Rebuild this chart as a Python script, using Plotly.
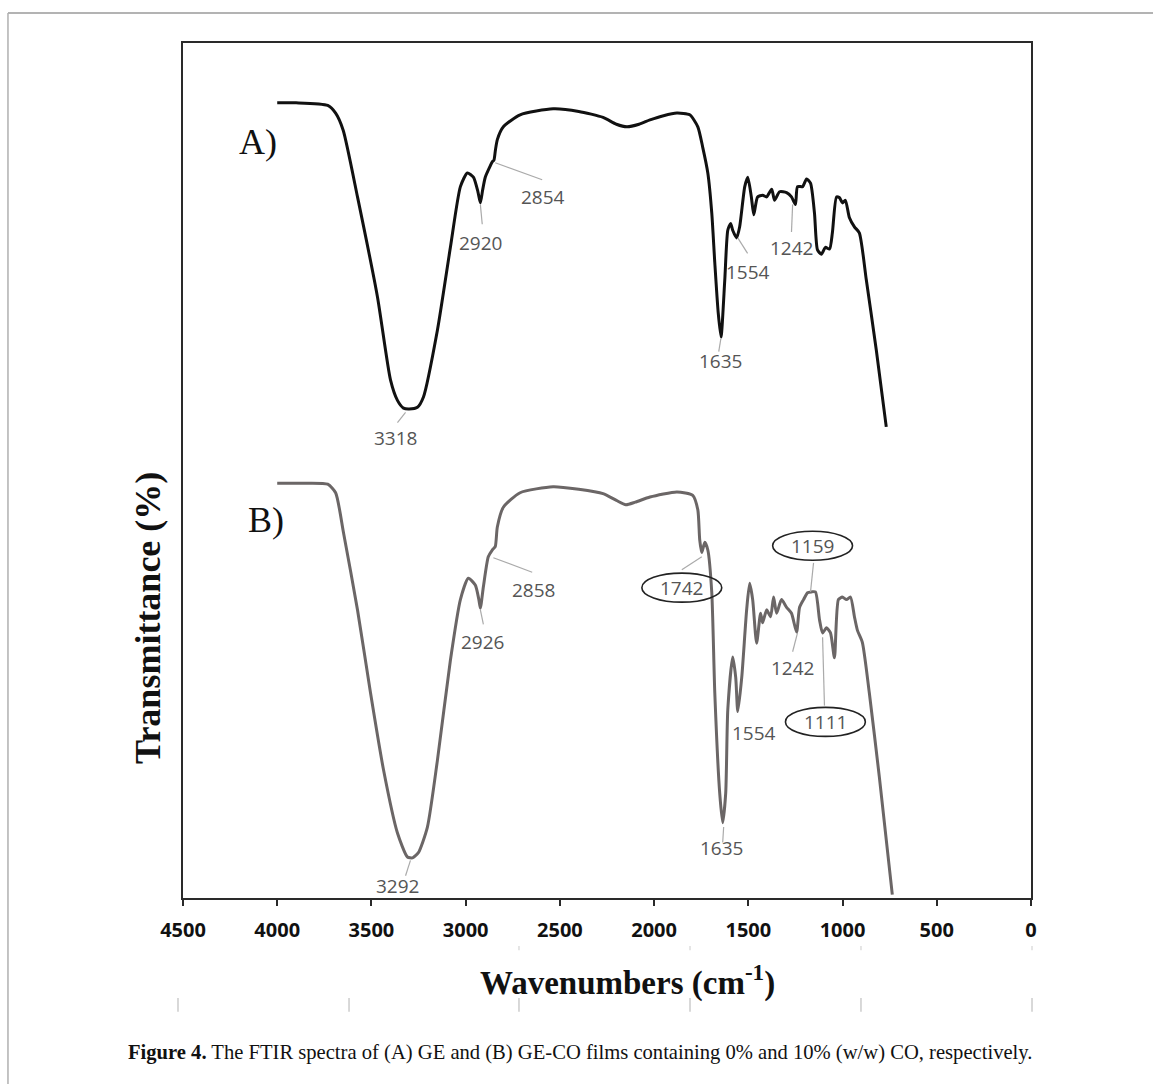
import plotly.graph_objects as go

# ---------------- data ----------------
wn_A = [4000, 3900, 3732, 3690, 3650, 3574, 3468, 3399, 3362, 3330, 3300, 3256, 3224, 3150, 3081, 3028,
        2991, 2959, 2935, 2922, 2910, 2896, 2870, 2859, 2850, 2842, 2832, 2800, 2711, 2536, 2400, 2271,
        2200, 2144, 2080, 2022, 1950, 1879, 1811, 1768, 1742, 1715, 1694, 1678, 1660, 1645, 1625, 1609,
        1594, 1583, 1562, 1546, 1519, 1503, 1484, 1471, 1451, 1424, 1403, 1376, 1361, 1334, 1297, 1271,
        1250, 1239, 1212, 1191, 1170, 1149, 1133, 1112, 1091, 1069, 1054, 1032, 1016, 1001, 985, 964,
        937, 911, 874, 821, 768]
tr_A = [93.0, 93.0, 92.7, 91.8, 89.8, 82.0, 70.3, 60.6, 58.2, 57.3, 57.2, 57.4, 58.6, 66.4, 76.1, 83.2,
        84.8, 84.3, 82.6, 81.3, 82.8, 84.3, 85.6, 86.1, 86.3, 87.5, 88.7, 90.2, 91.6, 92.3, 92.0, 91.3,
        90.5, 90.2, 90.5, 91.0, 91.5, 91.8, 91.6, 90.2, 87.8, 84.8, 80.1, 74.3, 68.5, 65.6, 72.3, 78.1,
        78.9, 78.1, 77.2, 78.5, 83.2, 84.3, 82.0, 79.9, 82.0, 82.2, 82.0, 82.9, 81.6, 82.6, 82.5, 82.0,
        81.1, 83.2, 83.2, 84.1, 83.6, 80.1, 75.8, 75.3, 76.1, 75.9, 77.8, 82.0, 81.9, 81.3, 81.6, 79.6,
        78.5, 77.8, 72.3, 64.1, 55.1]

wn_B = [4000, 3900, 3732, 3690, 3648, 3574, 3505, 3436, 3362, 3309, 3282, 3251, 3203, 3150, 3081, 3028,
        2986, 2949, 2930, 2922, 2906, 2880, 2859, 2843, 2832, 2800, 2711, 2536, 2400, 2271, 2200, 2150,
        2100, 2022, 1879, 1795, 1768, 1758, 1747, 1731, 1715, 1694, 1678, 1652, 1636, 1620, 1609, 1583,
        1567, 1556, 1535, 1509, 1493, 1477, 1456, 1435, 1424, 1403, 1382, 1366, 1350, 1324, 1297, 1271,
        1244, 1228, 1207, 1186, 1165, 1144, 1122, 1106, 1085, 1064, 1043, 1022, 1001, 979, 958, 937,
        921, 895, 858, 805, 736]
tr_B = [48.5, 48.5, 48.4, 47.4, 42.7, 33.7, 24.0, 15.0, 7.6, 4.8, 4.7, 5.3, 8.3, 16.1, 27.8, 34.9,
        37.4, 36.6, 34.9, 33.9, 36.4, 39.9, 40.7, 41.1, 43.4, 45.7, 47.4, 48.1, 47.8, 47.3, 46.5, 46.0,
        46.3, 46.9, 47.5, 47.1, 45.4, 41.9, 40.4, 41.6, 40.7, 35.7, 24.0, 12.3, 8.8, 12.3, 22.0, 28.2,
        25.8, 21.8, 25.8, 33.7, 36.8, 34.9, 29.8, 33.3, 32.2, 33.7, 32.9, 35.2, 33.3, 34.9, 34.0, 33.3,
        31.1, 34.0, 34.9, 35.7, 35.8, 35.8, 32.5, 31.0, 31.6, 31.0, 28.1, 34.9, 35.2, 34.9, 35.2, 32.9,
        31.3, 29.9, 24.0, 14.2, 0.4]

x_ticks = [4500, 4000, 3500, 3000, 2500, 2000, 1500, 1000, 500, 0]

# peak labels: (text, label x, label y, leader from (x,y) to (x,y), ellipse?)
peaks_A = [
    ("3318", 3372, 53.8, (3319, 56.8), (3362, 55.6), False),
    ("2920", 2922, 76.6, (2922, 81.1), (2912, 78.8), False),
    ("2854", 2589, 82.0, (2843, 86.0), (2594, 84.0), False),
    ("1635", 1646, 62.8, (1646, 65.4), (1657, 63.9), False),
    ("1554", 1504, 73.2, (1556, 77.2), (1504, 75.4), False),
    ("1242", 1271, 76.0, (1265, 81.1), (1271, 77.9), False),
]
peaks_B = [
    ("3292", 3362, 1.4, (3293, 4.4), (3319, 2.6), False),
    ("2926", 2912, 29.9, (2922, 33.7), (2906, 32.0), False),
    ("2858", 2642, 36.0, (2853, 39.8), (2647, 38.1), False),
    ("1742", 1853, 36.3, (1747, 39.9), (1853, 38.4), True),
    ("1159", 1159, 41.2, (1154, 39.2), (1170, 35.8), True),
    ("1242", 1265, 26.9, (1239, 31.0), (1265, 28.8), False),
    ("1111", 1091, 20.6, (1106, 30.5), (1096, 22.5), True),
    ("1554", 1472, 19.3, None, None, False),
    ("1635", 1641, 5.8, (1631, 8.3), (1636, 6.5), False),
]

# ---------------- figure ----------------
fig = go.Figure()
fig.add_trace(go.Scatter(x=wn_A, y=tr_A, mode="lines", name="GE",
                         line=dict(color="#111111", width=3, shape="spline", smoothing=0.6)))
fig.add_trace(go.Scatter(x=wn_B, y=tr_B, mode="lines", name="GE-CO",
                         line=dict(color="#6b6666", width=3, shape="spline", smoothing=0.6)))

annotations = []
shapes = []
lbl_font = dict(family="Open Sans", size=19, color="#555555")
for peaks in (peaks_A, peaks_B):
    for txt, lx, ly, p0, p1, ell in peaks:
        annotations.append(dict(x=lx, y=ly, xref="x", yref="y", text=txt, showarrow=False,
                                font=lbl_font, xanchor="center", yanchor="middle"))
        if p0 is not None:
            shapes.append(dict(type="line", xref="x", yref="y", x0=p0[0], y0=p0[1], x1=p1[0], y1=p1[1],
                               line=dict(color="#aaaaaa", width=1.2)))
        if ell:
            shapes.append(dict(type="circle", xref="x", yref="y",
                               x0=lx + 212, x1=lx - 212, y0=ly - 1.7, y1=ly + 1.7,
                               line=dict(color="#222222", width=1.6)))

# panel labels
annotations.append(dict(x=4103, y=88.4, xref="x", yref="y", text="A)", showarrow=False,
                        font=dict(family="Liberation Serif", size=36, color="#111111")))
annotations.append(dict(x=4061, y=44.2, xref="x", yref="y", text="B)", showarrow=False,
                        font=dict(family="Liberation Serif", size=36, color="#111111")))

# axis titles
annotations.append(dict(x=0.524, y=-0.097, xref="paper", yref="paper",
                        text="<b>Wavenumbers (cm<sup>-1</sup>)</b>", showarrow=False,
                        font=dict(family="Liberation Serif", size=33, color="#111111"),
                        xanchor="center", yanchor="middle"))
annotations.append(dict(x=-0.042, y=0.328, xref="paper", yref="paper",
                        text="<b>Transmittance (%)</b>", showarrow=False, textangle=-90,
                        font=dict(family="Liberation Serif", size=36, color="#111111"),
                        xanchor="center", yanchor="middle"))
# caption
annotations.append(dict(x=0.468, y=-0.181, xref="paper", yref="paper",
                        text="<b>Figure 4.</b> The FTIR spectra of (A) GE and (B) GE-CO films containing 0% and 10% (w/w) CO, respectively.",
                        showarrow=False,
                        font=dict(family="Liberation Serif", size=20.6, color="#111111"),
                        xanchor="center", yanchor="middle"))

# outer page frame (gray)
shapes.append(dict(type="line", xref="paper", yref="paper", x0=-0.2064, x1=1.16, y0=1.035, y1=1.035,
                   line=dict(color="#9a9a9a", width=1.5)))
shapes.append(dict(type="line", xref="paper", yref="paper", x0=-0.2064, x1=-0.2064, y0=1.035, y1=-0.22,
                   line=dict(color="#b0b0b0", width=1.5)))
# faint scan marks below axis
for px in [-0.0059, 0.1958, 0.3962, 0.5979, 0.7995, 1.0012]:
    shapes.append(dict(type="line", xref="paper", yref="paper", x0=px, x1=px, y0=-0.117, y1=-0.133,
                       line=dict(color="#cccccc", width=1.5)))
for px in [0.3962, 0.5979, 0.7995, 1.0012]:
    shapes.append(dict(type="line", xref="paper", yref="paper", x0=px, x1=px, y0=-0.056, y1=-0.061,
                       line=dict(color="#dddddd", width=1.5)))

fig.update_layout(
    width=1153, height=1084,
    margin=dict(l=183, r=122, t=43, b=186),
    paper_bgcolor="white", plot_bgcolor="white",
    showlegend=False,
    annotations=annotations,
    shapes=shapes,
)
fig.update_xaxes(range=[4500, 0], tickvals=x_ticks, ticktext=[str(v) for v in x_ticks],
                 showgrid=False, zeroline=False, showline=True, linecolor="#2a2a2a", linewidth=2,
                 mirror=True, ticks="outside", ticklen=6, tickwidth=2, tickcolor="#2a2a2a",
                 ticklabelstandoff=7,
                 tickfont=dict(family="Open Sans", size=20, color="#111111", weight="bold"))
fig.update_yaxes(range=[0, 100], showgrid=False, zeroline=False, showline=True, linecolor="#2a2a2a",
                 linewidth=2, mirror=True, ticks="", showticklabels=False)

fig.write_html("out.html")
